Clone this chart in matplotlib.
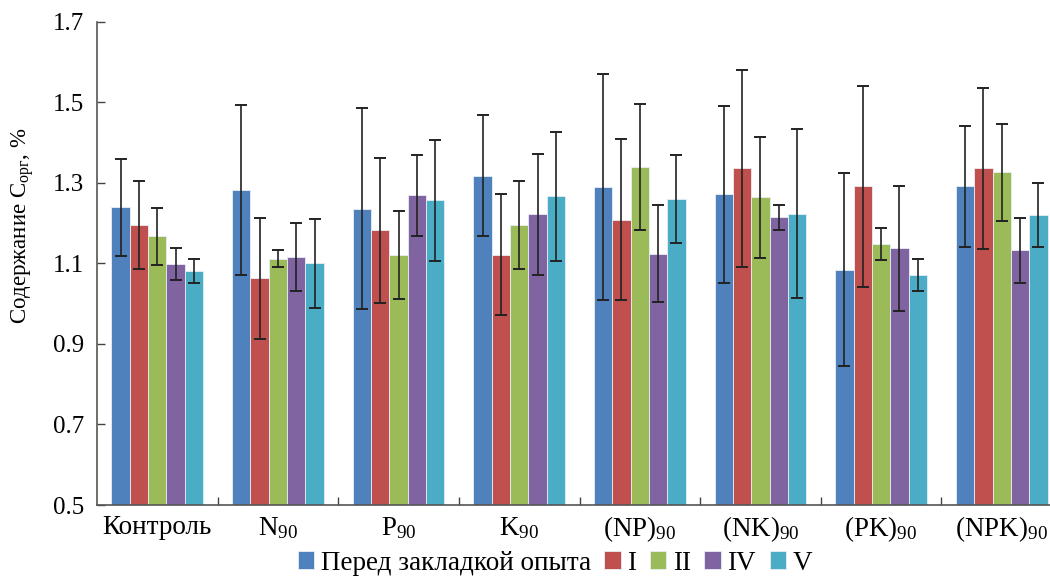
import numpy as np
import matplotlib
matplotlib.use('Agg')
import matplotlib.pyplot as plt

plt.rcParams['font.family'] = ['Liberation Serif', 'DejaVu Serif']
plt.rcParams['mathtext.fontset'] = 'custom'
plt.rcParams['mathtext.rm'] = 'Liberation Serif'
plt.rcParams['mathtext.it'] = 'Liberation Serif:italic'

# group labels
groups = ['Контроль', 'N$_{90}$', 'P$_{90}$', 'K$_{90}$',
          '(NP)$_{90}$', '(NK)$_{90}$', '(PK)$_{90}$', '(NPK)$_{90}$']
series = ['Перед закладкой опыта', 'I', 'II', 'IV', 'V']

# values, one list per series (over the groups)
before = [1.239, 1.282, 1.236, 1.318, 1.289, 1.271, 1.084, 1.291]
s_I = [1.195, 1.063, 1.182, 1.121, 1.208, 1.336, 1.291, 1.336]
s_II = [1.167, 1.112, 1.121, 1.195, 1.339, 1.264, 1.148, 1.326]
s_IV = [1.098, 1.116, 1.269, 1.222, 1.124, 1.214, 1.137, 1.132]
s_V = [1.080, 1.100, 1.257, 1.267, 1.260, 1.223, 1.071, 1.220]

# error bar half-widths
err_before = [0.12, 0.21, 0.25, 0.15, 0.28, 0.22, 0.24, 0.15]
err_I = [0.11, 0.15, 0.18, 0.15, 0.20, 0.245, 0.25, 0.20]
err_II = [0.07, 0.02, 0.11, 0.11, 0.157, 0.15, 0.04, 0.12]
err_IV = [0.04, 0.085, 0.10, 0.15, 0.12, 0.032, 0.155, 0.08]
err_V = [0.03, 0.11, 0.15, 0.16, 0.11, 0.21, 0.04, 0.08]

values = [before, s_I, s_II, s_IV, s_V]
errors = [err_before, err_I, err_II, err_IV, err_V]
colors = ['#4F81BD', '#C0504D', '#9BBB59', '#8064A2', '#4BACC6']

fig = plt.figure(figsize=(10.5, 5.76), dpi=100)
ax = fig.add_axes([97 / 1050, 1 - 505 / 576, 965 / 1050, (505 - 21.7) / 576])

x = np.arange(len(groups))
w = 0.152
for i, (vals, errs, c) in enumerate(zip(values, errors, colors)):
    pos = x + (i - 2) * w
    ax.bar(pos, np.array(vals) - 0.5, w, bottom=0.5, color=c, edgecolor='#e8eef6',
           linewidth=0.6, label=series[i], zorder=2)
    ax.errorbar(pos, vals, yerr=errs, fmt='none', ecolor='#222222', elinewidth=1.2,
                capsize=4.5, capthick=1.4, zorder=3)

ax.set_ylim(0.5, 1.7)
ax.set_xlim(-0.5, 7.5)
ax.set_yticks([0.5, 0.7, 0.9, 1.1, 1.3, 1.5, 1.7])
ax.set_yticklabels(['0.5', '0.7', '0.9', '1.1', '1.3', '1.5', '1.7'], fontsize=18)
ax.set_xticks(x)
ax.set_xticklabels(groups, fontsize=19.5)
ax.set_xticks(np.arange(0.5, 7.5, 1), minor=True)
ax.tick_params(axis='x', which='major', length=0, pad=7)
ax.tick_params(axis='x', which='minor', direction='in', length=6, width=1, color='#444444')
ax.tick_params(axis='y', direction='in', length=6, width=1, color='#444444', pad=9)

for s in ['top', 'right']:
    ax.spines[s].set_visible(False)
for s in ['left', 'bottom']:
    ax.spines[s].set_color('#555555')
    ax.spines[s].set_linewidth(1.2)

ax.set_ylabel('Содержание C$_{\\mathrm{орг}}$, %', fontsize=16.5)
ax.yaxis.set_label_coords(-61 / 965, 0.578)

ax.legend(loc='center', bbox_to_anchor=(555 / 1050, 1 - 563 / 576), bbox_transform=fig.transFigure,
          ncol=5, frameon=False, fontsize=19.5, handlelength=0.6, handleheight=0.6,
          handletextpad=0.25, columnspacing=0.5, borderaxespad=0.0, borderpad=0.0)

fig.savefig('out.png', dpi=100)
